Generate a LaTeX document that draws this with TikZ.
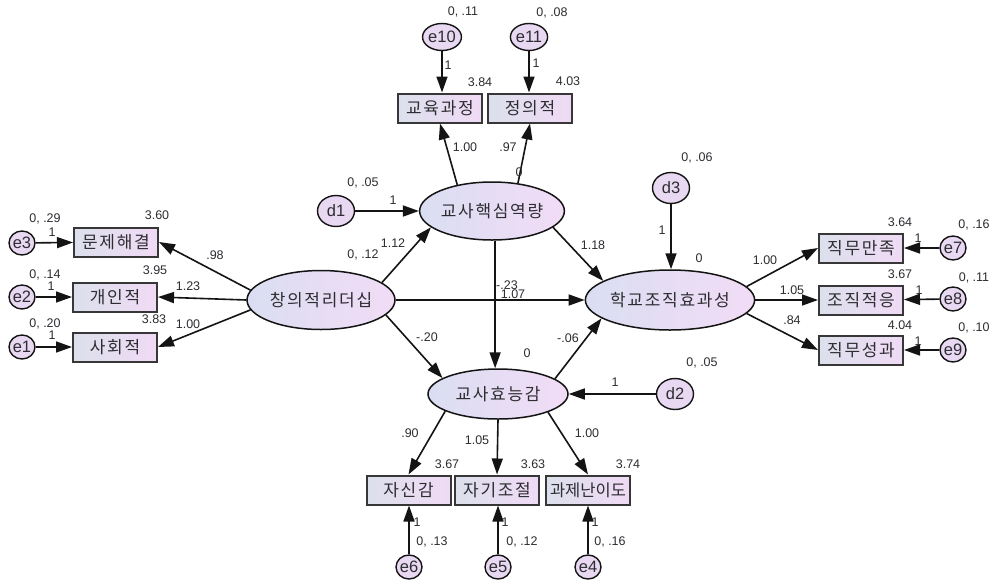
\documentclass[tikz,border=0pt]{standalone}
\usepackage{fontspec}
\setmainfont{Liberation Sans}
\newfontfamily\kr[LetterSpace=10]{Noto Sans CJK KR}
\newfontfamily\krn{Noto Sans CJK KR}
\usetikzlibrary{arrows.meta,shapes.geometric}
\definecolor{latL}{RGB}{218,222,242}
\definecolor{latR}{RGB}{242,220,246}
\definecolor{obsL}{RGB}{220,224,236}
\definecolor{obsR}{RGB}{240,218,245}
\definecolor{errc}{RGB}{232,216,242}
\definecolor{txt}{RGB}{45,45,50}
\definecolor{lnc}{RGB}{20,20,20}
\tikzset{
  lat/.style={ellipse, draw=lnc, line width=1.5pt, left color=latL, right color=latR,
    minimum width=148pt, minimum height=59pt, inner sep=0pt, text=txt,
    font=\kr\fontsize{17}{20}\selectfont},
  obs/.style={rectangle, draw=lnc!85, line width=2pt, left color=obsL, right color=obsR,
    minimum width=84pt, minimum height=29pt, inner sep=0pt, text=txt,
    font=\kr\fontsize{17}{20}\selectfont},
  err/.style={ellipse, draw=lnc, line width=1.4pt, fill=errc, minimum width=26pt,
    minimum height=24pt, inner sep=0pt, text=txt, font=\fontsize{16.5}{16}\selectfont},
  dist/.style={ellipse, draw=lnc, line width=1.4pt, fill=errc, minimum width=37pt,
    minimum height=31pt, inner sep=0pt, text=txt, font=\fontsize{16.5}{16}\selectfont},
  lbl/.style={inner sep=0pt, text=txt, font=\fontsize{12.5}{13}\selectfont},
  arr/.style={-{Triangle[length=16pt,width=11pt]}, line width=1.6pt, draw=lnc},
}
\begin{document}
\begin{tikzpicture}[x=1pt,y=-1pt]
\useasboundingbox (0,0) rectangle (995,584);
\fill[white] (0,0) rectangle (995,584);

% latent variables
\node[lat] (C) at (321,300) {창의적리더십};
\node[lat, minimum width=136pt, minimum height=58pt] (K) at (492,211) {교사핵심역량};
\node[lat, minimum width=146pt, minimum height=60pt] (S) at (670,300) {학교조직효과성};
\node[lat, minimum width=140pt, minimum height=50pt] (E) at (498,394) {교사효능감};

% observed variables
\node[obs] (b1) at (116,242) {문제해결};
\node[obs] (b2) at (115,297) {개인적};
\node[obs] (b3) at (115,347) {사회적};
\node[obs] (b4) at (440,108) {교육과정};
\node[obs] (b5) at (530,108) {정의적};
\node[obs] (b6) at (861,248) {직무만족};
\node[obs] (b7) at (861,300) {조직적응};
\node[obs] (b8) at (861,350) {직무성과};
\node[obs] (b9) at (408.5,490) {자신감};
\node[obs] (b10) at (497,490) {자기조절};
\node[obs, font=\krn\fontsize{16.5}{18}\selectfont] (b11) at (588,490) {과제난이도};

% error terms
\node[err] (e3) at (22,243) {e3};
\node[err] (e2) at (22,297) {e2};
\node[err] (e1) at (22,347) {e1};
\node[err, minimum width=28pt, minimum height=27pt] (e10) at (442,37) {e10};
\node[err, minimum width=28pt, minimum height=27pt] (e11) at (529,37) {e11};
\node[err] (e7) at (953,248) {e7};
\node[err] (e8) at (953,299) {e8};
\node[err] (e9) at (953,350) {e9};
\node[err] (e6) at (409,567) {e6};
\node[err] (e5) at (498,567) {e5};
\node[err] (e4) at (588,567) {e4};
\node[dist] (d1) at (336,211) {d1};
\node[dist] (d2) at (675,394) {d2};
\node[dist] (d3) at (671,188) {d3};

% connectors
\draw[arr] (e3) -- (b1);
\draw[arr] (e2) -- (b2);
\draw[arr] (e1) -- (b3);
\draw[arr] (C.172) -- (b1.east);
\draw[arr] (C.180) -- (b2.east);
\draw[arr] (C.188) -- (b3.east);
\draw[arr] (C.16) -- (K.195);
\draw[arr] (C) -- (S);
\draw[arr] (C.-13) -- (E.164);
\draw[arr] (d1) -- (K);
\draw[arr] (K.143) -- (b4.south);
\draw[arr] (K.47) -- (b5.south);
\draw[arr] (e10) -- (e10 |- b4.north);
\draw[arr] (e11) -- (e11 |- b5.north);
\draw[arr] (K.-15) -- (S.164);
\draw[arr] (K.-84) -- (E.north -| K.-84);
\draw[arr] (E.15) -- (S.195);
\draw[arr] (d2) -- (E);
\draw[arr] (d3) -- (d3 |- S.north);
\draw[arr] (S.10) -- (b6.west);
\draw[arr] (S) -- (b7);
\draw[arr] (S.-10) -- (b8.west);
\draw[arr] (e7) -- (b6);
\draw[arr] (e8) -- (b7);
\draw[arr] (e9) -- (b8);
\draw[arr] (E.198) -- (b9.north);
\draw[arr] (E.south) -- (b10.north);
\draw[arr] (E.-20) -- (b11.north);
\draw[arr] (e6) -- (e6 |- b9.south);
\draw[arr] (e5) -- (e5 |- b10.south);
\draw[arr] (e4) -- (e4 |- b11.south);

% labels: left
\node[lbl] (l1) at (45,219) {0, .29};
\node[lbl] (l2) at (52,232) {1};
\node[lbl] (l3) at (157,215) {3.60};
\node[lbl] (l4) at (215,255) {.98};
\node[lbl] (l5) at (45,275) {0, .14};
\node[lbl] (l6) at (51,286) {1};
\node[lbl] (l7) at (155,270) {3.95};
\node[lbl] (l8) at (188,286) {1.23};
\node[lbl] (l9) at (45,324) {0, .20};
\node[lbl] (l10) at (52,335) {1};
\node[lbl] (l11) at (154,319) {3.83};
\node[lbl] (l12) at (188,324) {1.00};
% top
\node[lbl] (l13) at (463,12) {0, .11};
\node[lbl] (l14) at (448,65) {1};
\node[lbl] (l15) at (480,82) {3.84};
\node[lbl] (l16) at (552,13) {0, .08};
\node[lbl] (l17) at (536,63) {1};
\node[lbl] (l18) at (568,81) {4.03};
\node[lbl] (l19) at (465,147) {1.00};
\node[lbl] (l20) at (508,147) {.97};
\node[lbl] (l21) at (519,172) {0};
\node[lbl] (l22) at (363,183) {0, .05};
\node[lbl] (l23) at (393,200) {1};
\node[lbl] (l24) at (393,243) {1.12};
\node[lbl] (l25) at (363,255) {0, .12};
% centre
\node[lbl] (l26) at (593,245) {1.18};
\node[lbl] (l27) at (507,285) {-.23};
\node[lbl] (l28) at (513,294) {1.07};
\node[lbl] (l29) at (427,337) {-.20};
\node[lbl] (l30) at (568,338) {-.06};
\node[lbl] (l31) at (527,353) {0};
% right
\node[lbl] (l32) at (697,158) {0, .06};
\node[lbl] (l33) at (662,230) {1};
\node[lbl] (l34) at (699,258) {0};
\node[lbl] (l35) at (765,260) {1.00};
\node[lbl] (l36) at (792,290) {1.05};
\node[lbl] (l37) at (792,320) {.84};
\node[lbl] (l38) at (900,222) {3.64};
\node[lbl] (l39) at (974,225) {0, .16};
\node[lbl] (l40) at (918,238) {1};
\node[lbl] (l41) at (900,274) {3.67};
\node[lbl] (l42) at (974,278) {0, .11};
\node[lbl] (l43) at (919,290) {1};
\node[lbl] (l44) at (900,325) {4.04};
\node[lbl] (l45) at (974,328) {0, .10};
\node[lbl] (l46) at (918,341) {1};
\node[lbl] (l47) at (702,363) {0, .05};
\node[lbl] (l48) at (615,382) {1};
% bottom
\node[lbl] (l49) at (410,433) {.90};
\node[lbl] (l50) at (477,440) {1.05};
\node[lbl] (l51) at (587,433) {1.00};
\node[lbl] (l52) at (447,464) {3.67};
\node[lbl] (l53) at (533,464) {3.63};
\node[lbl] (l54) at (628,464) {3.74};
\node[lbl] (l55) at (417,522) {1};
\node[lbl] (l56) at (432,542) {0, .13};
\node[lbl] (l57) at (505,522) {1};
\node[lbl] (l58) at (522,542) {0, .12};
\node[lbl] (l59) at (595,522) {1};
\node[lbl] (l60) at (610,542) {0, .16};
\end{tikzpicture}
\end{document}
